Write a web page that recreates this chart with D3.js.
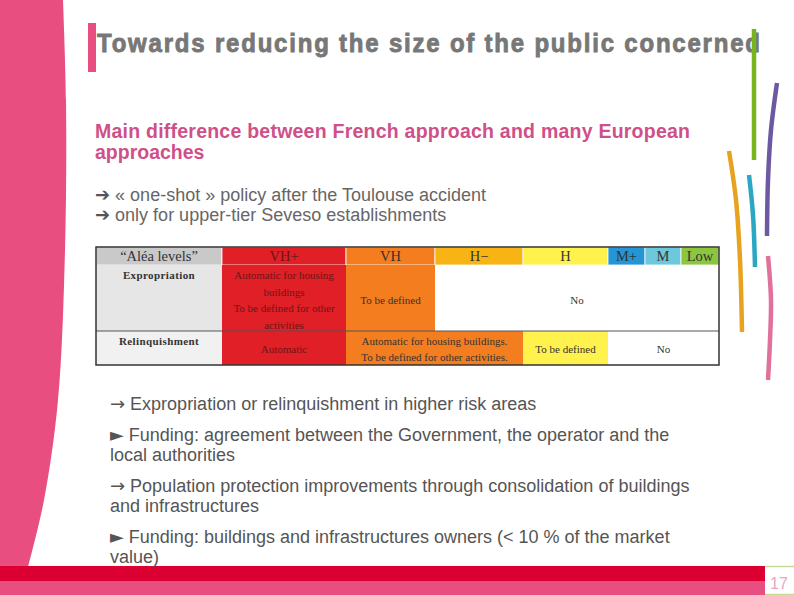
<!DOCTYPE html>
<html><head><meta charset="utf-8">
<script src="https://cdn.jsdelivr.net/npm/d3@7"></script>
<style>
html,body{margin:0;padding:0;background:#fff;}
svg{display:block;}
</style></head>
<body>
<script>
// ---------- data ----------
const titleText = "Towards reducing the size of the public concerned";
const subtitleLines = ["Main difference between French approach and many European", "approaches"];
const introLines = [["\u2794", " \u00ab one-shot \u00bb policy after the Toulouse accident"], ["\u2794", " only for upper-tier Seveso establishments"]];
const levels = ["\u201cAl\u00e9a levels\u201d", "VH+", "VH", "H\u2212", "H", "M+", "M", "Low"];
const levelColors = ["#c9c9c9", "#e01f26", "#f47d20", "#f8b315", "#fff24d", "#2496d5", "#6ec8dc", "#8cc63f"];
const rowLabels = ["Expropriation", "Relinquishment"];
// each cell: [startCol, endCol(exclusive), lines, fill]
const expropriationCells = [
  [1, 2, ["Automatic for housing", "buildings", "To be defined for other", "activities"], "#e01f26"],
  [2, 3, ["To be defined"], "#f47d20"],
  [3, 8, ["No"], "#ffffff"]
];
const relinquishmentCells = [
  [1, 2, ["Automatic"], "#e01f26"],
  [2, 4, ["Automatic for housing buildings.", "To be defined for other activities."], "#f47d20"],
  [4, 5, ["To be defined"], "#fff24d"],
  [5, 8, ["No"], "#ffffff"]
];
const bulletBlocks = [
  [["\u2192", " Expropriation or relinquishment in higher risk areas"]],
  [["\u25ba", " Funding: agreement between the Government, the operator and the"], ["", "local authorities"]],
  [["\u2192", " Population protection improvements through consolidation of buildings"], ["", "and infrastructures"]],
  [["\u25ba", " Funding: buildings and infrastructures owners (< 10 % of the market"], ["", "value)"]]
];
const pageNumber = "17";

// ---------- layout ----------
const W = 794, H = 595;
const svg = d3.select("body").append("svg").attr("width", W).attr("height", H);
const pink = "#e84f80";
const sans = "Liberation Sans, Arial, sans-serif";

// left pink shape
const edgePts = [[63,0],[66,100],[65,250],[58,400],[44,500],[28,567]];
svg.append("path")
  .attr("d", "M0,0 L" + d3.line().curve(d3.curveCatmullRom)(edgePts).slice(1) + " L0,567 Z")
  .attr("fill", pink);

// bottom bars
svg.append("rect").attr("x",0).attr("y",566).attr("width",765).attr("height",15).attr("fill","#dc0032");
svg.append("rect").attr("x",0).attr("y",581).attr("width",765).attr("height",14).attr("fill",pink);
svg.append("line").attr("x1",765).attr("x2",794).attr("y1",566.5).attr("y2",566.5).attr("stroke","#c6dc95").attr("stroke-width",1.5);
svg.append("line").attr("x1",765).attr("x2",794).attr("y1",594.5).attr("y2",594.5).attr("stroke","#c6dc95").attr("stroke-width",1.5);
svg.append("text").attr("x",779).attr("y",589).attr("text-anchor","middle")
  .attr("font-family",sans).attr("font-size",16).attr("fill","#eaa6c4").text(pageNumber);

// title
svg.append("rect").attr("x",88).attr("y",23).attr("width",8).attr("height",49).attr("fill",pink);
svg.append("text").attr("x",97).attr("y",0)
  .attr("transform","translate(0,52) scale(1,1.1)")
  .attr("font-family",sans).attr("font-weight","bold")
  .attr("font-size",24).attr("fill","#777777").attr("stroke","#777777").attr("stroke-width",0.8)
  .attr("textLength",663).attr("lengthAdjust","spacing").text(titleText);

// decorative strokes on the right
const strokes = [
  {c:"#78b41e", p:[[754,29],[754,90],[754,160]]},
  {c:"#6d58a2", p:[[777,83],[771,130],[768,180],[767,236]]},
  {c:"#e9a21f", p:[[729,151],[736,200],[740,260],[742,332]]},
  {c:"#2aa8c2", p:[[749,175],[753,215],[755,267]]},
  {c:"#e0719a", p:[[768,256],[771,300],[770,340],[768,380]]}
];
svg.selectAll("path.deco").data(strokes).join("path").attr("class","deco")
  .attr("d", d => d3.line().curve(d3.curveCatmullRom)(d.p))
  .attr("fill","none").attr("stroke", d => d.c).attr("stroke-width",4.5).attr("stroke-linecap","butt");

// subtitle
svg.selectAll("text.sub").data(subtitleLines).join("text").attr("class","sub")
  .attr("x",95).attr("y",(d,i)=>138+i*21)
  .attr("font-family",sans).attr("font-weight","bold").attr("font-size",19.5)
  .attr("fill","#cf5088")
  .each(function(d,i){ if(i===0) d3.select(this).attr("textLength",595).attr("lengthAdjust","spacing"); })
  .text(d=>d);

function arrowLine(sel, parts, arrowSize, arrowColor) {
  sel.append("tspan").attr("font-family","DejaVu Sans, sans-serif").attr("font-size",arrowSize)
    .attr("fill", arrowColor || null).text(parts[0]);
  sel.append("tspan").text(parts[1]);
}
introLines.forEach((parts,i) => {
  const t = svg.append("text").attr("x",95).attr("y",201+i*20)
    .attr("font-family",sans).attr("font-size",18).attr("fill","#666666");
  arrowLine(t, parts, 18, "#555555");
});

// ---------- table ----------
const colWeights = [126,124,89,88,85,37,36,38];
const edges = [0]; colWeights.forEach(w => edges.push(edges[edges.length-1]+w));
const xs = d3.scaleLinear().domain([0, edges[edges.length-1]]).range([96, 719]);
const colX = i => xs(edges[i]);
const rowY = [247, 265, 331, 365];
const tbl = svg.append("g");
const serif = "Liberation Serif, Times New Roman, serif";

// header
levels.forEach((lv,i) => {
  tbl.append("rect").attr("x",colX(i)).attr("y",rowY[0]).attr("width",colX(i+1)-colX(i)).attr("height",rowY[1]-rowY[0])
    .attr("fill",levelColors[i]).attr("stroke","#ffffff").attr("stroke-width",0.8);
  tbl.append("text").attr("x",(colX(i)+colX(i+1))/2).attr("y",rowY[0]+14).attr("text-anchor","middle")
    .attr("font-family",serif).attr("font-size",14.5).attr("fill", i===1 ? "#6e1616" : "#333").text(lv);
});
// body rows
const rows = [expropriationCells, relinquishmentCells];
const labelFills = ["#e6e6e6", "#f1f1f1"];
rows.forEach((cells, r) => {
  const y0 = rowY[r+1], y1 = rowY[r+2];
  tbl.append("rect").attr("x",colX(0)).attr("y",y0).attr("width",colX(1)-colX(0)).attr("height",y1-y0).attr("fill",labelFills[r]);
  tbl.append("text").attr("x",(colX(0)+colX(1))/2).attr("y",y0+14).attr("text-anchor","middle")
    .attr("font-family",serif).attr("font-weight","bold").attr("font-size",11).attr("letter-spacing",0.4)
    .attr("fill","#333").text(rowLabels[r]);
  cells.forEach(([a,b,lines,fill]) => {
    tbl.append("rect").attr("x",colX(a)).attr("y",y0).attr("width",colX(b)-colX(a)).attr("height",y1-y0).attr("fill",fill);
    const lh = r===0 ? 16.7 : 16;
    const cy = (y0+y1)/2 + (r===0 ? 2 : 1);
    lines.forEach((t,k) => {
      tbl.append("text").attr("x",(colX(a)+colX(b))/2)
        .attr("y", cy + (k - (lines.length-1)/2)*lh + 4).attr("text-anchor","middle")
        .attr("font-family",serif).attr("font-size",11)
        .attr("fill", fill==="#e01f26" ? "#6e1616" : "#333").text(t);
    });
  });
});
tbl.append("line").attr("x1",colX(0)).attr("x2",colX(8)).attr("y1",rowY[2]).attr("y2",rowY[2]).attr("stroke","#555").attr("stroke-width",1);
tbl.append("rect").attr("x",colX(0)).attr("y",rowY[0]).attr("width",colX(8)-colX(0)).attr("height",rowY[3]-rowY[0])
  .attr("fill","none").attr("stroke","#333").attr("stroke-width",1.5);

// ---------- bullet text ----------
let yy = 410;
bulletBlocks.forEach(block => {
  block.forEach((parts,k) => {
    const t = svg.append("text").attr("x",110).attr("y",yy + k*20)
      .attr("font-family",sans).attr("font-size",18).attr("fill","#555555");
    arrowLine(t, parts, 18);
  });
  yy += 31 + (block.length-1)*20;
});
</script>
</body></html>
